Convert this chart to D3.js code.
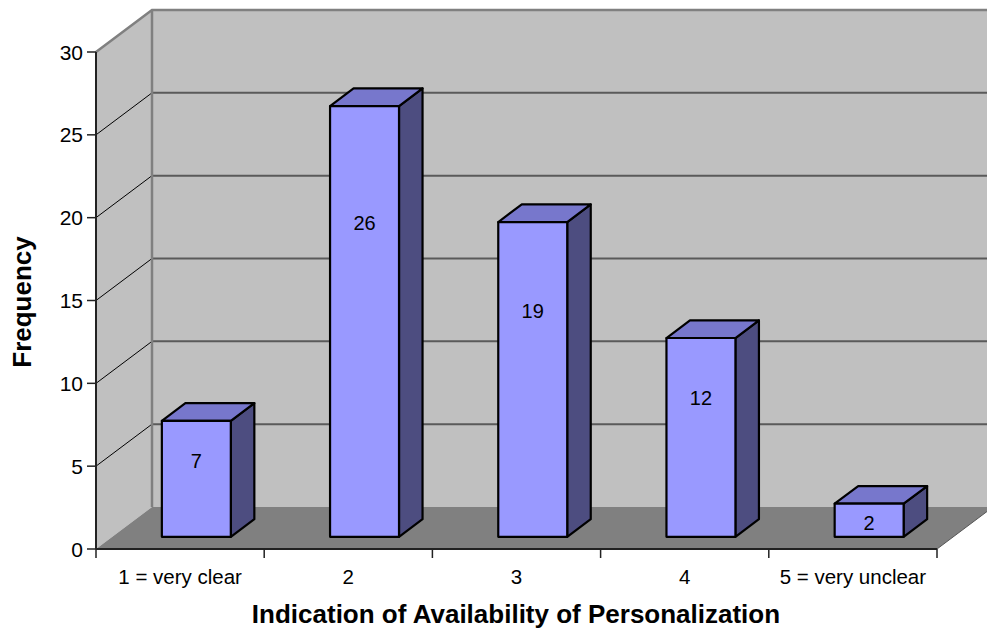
<!DOCTYPE html>
<html>
<head>
<meta charset="utf-8">
<script src="https://cdn.jsdelivr.net/npm/d3@7"></script>
<style>
  html, body { margin: 0; padding: 0; background: #ffffff; }
  svg { display: block; font-family: "Liberation Sans", Arial, sans-serif; }
</style>
</head>
<body>
<svg id="chart" width="987" height="630"></svg>
<script>
// Responses per rating category
const categories = ["1 = very clear", "2", "3", "4", "5 = very unclear"];
const frequencies = [7, 26, 19, 12, 2];
const yTicks = [0, 5, 10, 15, 20, 25, 30];
const xTitle = "Indication of Availability of Personalization";
const yTitle = "Frequency";

const svg = d3.select("#chart");

// Front plane of the 3D box
const x = d3.scaleBand().domain(categories).range([96, 937]);
const y = d3.scaleLinear().domain([0, 30]).range([549, 52]);

// Depth vector from the front plane to the back wall
const depth = { dx: 56, dy: -42 };
const barFront = 0.29, barBack = 0.71;   // bar position along the depth
const barFrac = 0.41;                     // bar width as share of the band

const proj = (px, py, t) => [px + depth.dx * t, py + depth.dy * t];
const poly = pts => pts.map(p => p.join(",")).join(" ");

const x0 = x.range()[0], x1 = x.range()[1];
const yTop = y(30), yBase = y(0);

// Back wall
svg.append("polygon")
  .attr("points", poly([proj(x0, yTop, 1), proj(x1, yTop, 1), proj(x1, yBase, 1), proj(x0, yBase, 1)]))
  .attr("fill", "#c0c0c0");

// Side wall
svg.append("polygon")
  .attr("points", poly([[x0, yTop], proj(x0, yTop, 1), proj(x0, yBase, 1), [x0, yBase]]))
  .attr("fill", "#c0c0c0");

// Gridlines on the back wall and side wall
const grid = yTicks.filter(v => v > 0 && v < 30);
svg.append("g").selectAll("line").data(grid).join("line")
  .attr("x1", d => proj(x0, y(d), 1)[0]).attr("y1", d => proj(x0, y(d), 1)[1])
  .attr("x2", d => proj(x1, y(d), 1)[0]).attr("y2", d => proj(x1, y(d), 1)[1])
  .attr("stroke", "#5a5a5a").attr("stroke-width", 2);
svg.append("g").selectAll("line").data(grid).join("line")
  .attr("x1", x0).attr("y1", d => y(d))
  .attr("x2", d => proj(x0, y(d), 1)[0]).attr("y2", d => proj(x0, y(d), 1)[1])
  .attr("stroke", "#000").attr("stroke-width", 1);

// Wall edges
svg.append("polyline")
  .attr("points", poly([[x0, yTop], proj(x0, yTop, 1), proj(x1, yTop, 1)]))
  .attr("fill", "none").attr("stroke", "#808080").attr("stroke-width", 2.5);
svg.append("line")
  .attr("x1", proj(x0, yTop, 1)[0]).attr("y1", proj(x0, yTop, 1)[1])
  .attr("x2", proj(x0, yBase, 1)[0]).attr("y2", proj(x0, yBase, 1)[1])
  .attr("stroke", "#808080").attr("stroke-width", 2.5);

// Floor
svg.append("polygon")
  .attr("points", poly([[x0, yBase], [x1, yBase], proj(x1, yBase, 1), proj(x0, yBase, 1)]))
  .attr("fill", "#808080");
svg.append("line")
  .attr("x1", x1).attr("y1", yBase)
  .attr("x2", proj(x1, yBase, 1)[0]).attr("y2", proj(x1, yBase, 1)[1])
  .attr("stroke", "#555").attr("stroke-width", 1);

// Bars
const bars = svg.append("g")
  .attr("stroke", "#000").attr("stroke-width", 2.2).attr("stroke-linejoin", "round");
categories.forEach((c, i) => {
  const v = frequencies[i];
  const w = x.bandwidth() * barFrac;
  const cx = x(c) + x.bandwidth() / 2;
  const L = cx - w / 2, R = cx + w / 2;
  const fTL = proj(L, y(v), barFront), fTR = proj(R, y(v), barFront);
  const fBL = proj(L, y(0), barFront), fBR = proj(R, y(0), barFront);
  const bTL = proj(L, y(v), barBack), bTR = proj(R, y(v), barBack);
  const bBR = proj(R, y(0), barBack);
  const g = bars.append("g");
  g.append("polygon").attr("points", poly([fTR, bTR, bBR, fBR])).attr("fill", "#4d4d80");
  g.append("polygon").attr("points", poly([fTL, bTL, bTR, fTR])).attr("fill", "#7777cc");
  g.append("polygon").attr("points", poly([fTL, fTR, fBR, fBL])).attr("fill", "#9999ff");
});

// Value labels on the bar fronts
svg.append("g").selectAll("text").data(frequencies).join("text")
  .attr("x", (d, i) => proj(x(categories[i]) + x.bandwidth() / 2, 0, barFront)[0])
  .attr("y", d => y(d * 0.754) - 1)
  .attr("dy", "0.35em")
  .attr("text-anchor", "middle")
  .attr("font-size", 20)
  .attr("fill", "#000")
  .text(d => d);

// Value axis
const yAxis = svg.append("g");
yAxis.append("line").attr("x1", x0).attr("x2", x0).attr("y1", yTop).attr("y2", yBase)
  .attr("stroke", "#222").attr("stroke-width", 2);
yAxis.selectAll("line.tick").data(yTicks).join("line").attr("class", "tick")
  .attr("x1", x0 - 9).attr("x2", x0).attr("y1", d => y(d)).attr("y2", d => y(d))
  .attr("stroke", "#222").attr("stroke-width", 1.5);
yAxis.selectAll("text").data(yTicks).join("text")
  .attr("x", x0 - 13).attr("y", d => y(d)).attr("dy", "0.36em")
  .attr("text-anchor", "end").attr("font-size", 21).attr("fill", "#000")
  .text(d => d);

// Category axis
const xAxis = svg.append("g");
xAxis.append("line").attr("x1", x0).attr("x2", x1).attr("y1", yBase).attr("y2", yBase)
  .attr("stroke", "#222").attr("stroke-width", 2);
const bounds = categories.map(c => x(c)).concat([x1]);
xAxis.selectAll("line.tick").data(bounds).join("line").attr("class", "tick")
  .attr("x1", d => d).attr("x2", d => d).attr("y1", yBase).attr("y2", yBase + 9)
  .attr("stroke", "#222").attr("stroke-width", 1.5);
xAxis.selectAll("text").data(categories).join("text")
  .attr("x", d => x(d) + x.bandwidth() / 2).attr("y", 577).attr("dy", "0.35em")
  .attr("text-anchor", "middle").attr("font-size", 20.5).attr("fill", "#000")
  .text(d => d);

// Axis titles
svg.append("text")
  .attr("x", 516).attr("y", 614).attr("dy", "0.35em")
  .attr("text-anchor", "middle").attr("font-size", 26).attr("font-weight", "bold")
  .text(xTitle);
svg.append("text")
  .attr("transform", "translate(22,302) rotate(-90)")
  .attr("dy", "0.35em")
  .attr("text-anchor", "middle").attr("font-size", 26).attr("font-weight", "bold")
  .text(yTitle);
</script>
</body>
</html>
